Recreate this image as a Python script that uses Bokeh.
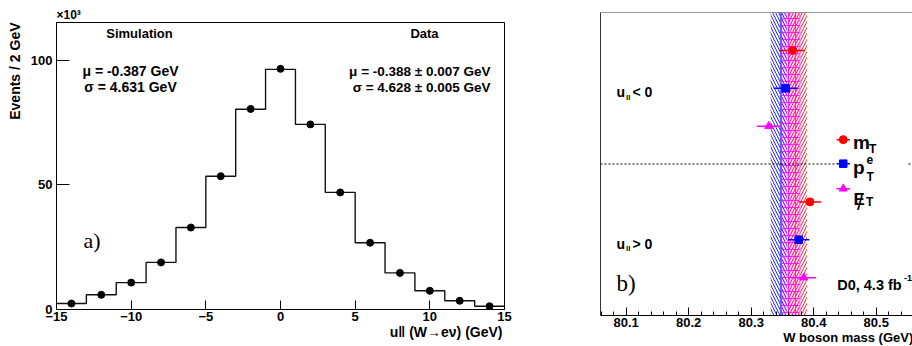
from bokeh.plotting import figure
from bokeh.models import Label, FixedTicker, SingleIntervalTicker, Range1d, Span, Title
from bokeh.layouts import row
from bokeh.embed import file_html
from bokeh.resources import INLINE

# ---------------- data: panel a) ----------------
bin_centers = [-14, -12, -10, -8, -6, -4, -2, 0, 2, 4, 6, 8, 10, 12, 14]
bin_width = 2
sim_counts = [2.4, 5.9, 10.8, 18.9, 32.9, 53.5, 80.4, 96.4, 74.3, 47.0, 26.8, 14.7, 7.5, 3.5, 1.3]
data_counts = [2.4, 5.9, 10.8, 18.9, 32.9, 53.5, 80.5, 96.6, 74.3, 47.0, 26.8, 14.7, 7.5, 3.5, 1.3]
xticks_a = [-15, -10, -5, 0, 5, 10, 15]
yticks_a = [0, 50, 100]
sim_title = "Simulation"
sim_mu = "μ = -0.387 GeV"
sim_sigma = "σ = 4.631 GeV"
data_title = "Data"
data_mu = "μ = -0.388 ± 0.007 GeV"
data_sigma = "σ = 4.628 ± 0.005 GeV"
ylabel_a = "Events / 2 GeV"
xlabel_a = "u‖ (W→eν) (GeV)"
yscale_a = "×10³"

# ---------------- data: panel b) ----------------
methods = ["mT", "pTe", "MET"]
method_colors = ["#ff0000", "#0000ff", "#ff00ff"]
method_markers = ["circle", "square", "triangle"]
rows_neg = [7, 6, 5]          # u_par < 0 rows
rows_pos = [3, 2, 1]          # u_par > 0 rows
mass_neg = [80.366, 80.355, 80.328]
err_neg = [0.020, 0.019, 0.019]
mass_pos = [80.394, 80.376, 80.384]
err_pos = [0.018, 0.017, 0.020]
band_center = [80.3735, 80.344, 80.3625]
band_half = [0.0155, 0.013, 0.0155]
xlabel_b = "W boson mass (GeV)"

FONT = "Liberation Sans"
SERIF = "Liberation Serif"


def lbl(p, x0, y0, fx, fy, px, py, text, size, align="left", baseline="alphabetic",
        bold=True, font=FONT, angle=0.0):
    """Place a label at canvas pixel (px, py) using frame corner (fx, fy) as anchor."""
    p.add_layout(Label(x=x0, y=y0, x_offset=px - fx, y_offset=fy - py, text=text,
                       text_font=font, text_font_size=f"{size}px",
                       text_font_style="bold" if bold else "normal",
                       text_align=align, text_baseline=baseline, angle=angle,
                       text_color="black"))


def ttl(text, size, align, offset=0, standoff=0, valign="bottom"):
    return Title(text=text, align=align, offset=offset, standoff=standoff,
                 vertical_align=valign, text_font=FONT, text_font_size=f"{size}px",
                 text_font_style="bold", text_color="black")


# ================= panel a =================
p1 = figure(width=560, height=346, x_range=Range1d(-15, 15), y_range=Range1d(0, 115.2),
            output_backend="svg", toolbar_location=None, title_location=None,
            min_border_left=56, min_border_right=56, min_border_top=22, min_border_bottom=37)
p1.grid.visible = False
p1.outline_line_color = "black"
p1.outline_line_width = 1
p1.background_fill_color = "white"
p1.border_fill_color = "white"

for ax in (p1.xaxis[0], p1.yaxis[0]):
    ax.axis_line_color = "black"
    ax.major_tick_line_color = "black"
    ax.major_tick_out = 0
    ax.minor_tick_line_color = None
    ax.major_label_text_font = FONT
    ax.major_label_text_font_style = "bold"
    ax.major_label_text_font_size = "13px"
    ax.major_label_text_color = "black"
p1.xaxis.ticker = FixedTicker(ticks=xticks_a)
p1.yaxis.ticker = FixedTicker(ticks=yticks_a)
p1.xaxis.major_tick_in = 9
p1.yaxis.major_tick_in = 13
p1.xaxis.major_label_standoff = 2
p1.yaxis.major_label_standoff = 4

p1.add_layout(ttl(yscale_a, 12, "left", offset=0, standoff=2), "above")
p1.add_layout(ttl(ylabel_a, 14, "right", offset=0, standoff=6, valign="top"), "left")
p1.add_layout(ttl(xlabel_a, 14, "right", offset=2, standoff=0, valign="top"), "below")

edges = [c - bin_width / 2 for c in bin_centers] + [bin_centers[-1] + bin_width / 2]
p1.step(x=edges, y=sim_counts + [sim_counts[-1]], mode="after", line_color="#111111", line_width=1.4)
p1.scatter(x=bin_centers, y=data_counts, marker="circle", size=7, fill_color="black", line_color="black")

A = dict(x0=-15, y0=0, fx=56, fy=309)
lbl(p1, **A, px=139, py=33, text=sim_title, size=13, align="center", baseline="middle")
lbl(p1, **A, px=130, py=70.5, text=sim_mu, size=14, align="center", baseline="middle")
lbl(p1, **A, px=130, py=86.5, text=sim_sigma, size=14, align="center", baseline="middle")
lbl(p1, **A, px=424, py=33, text=data_title, size=13, align="center", baseline="middle")
lbl(p1, **A, px=490, py=70.5, text=data_mu, size=13.5, align="right", baseline="middle")
lbl(p1, **A, px=490, py=86.5, text=data_sigma, size=13.5, align="right", baseline="middle")
lbl(p1, **A, px=83, py=240, text="a)", size=22, bold=False, font=SERIF)

# ================= panel b =================
XL, XR = 80.0589, 80.558
p2 = figure(width=352, height=346, x_range=Range1d(XL, XR), y_range=Range1d(0, 8),
            output_backend="svg", toolbar_location=None, title_location=None,
            min_border_left=40, min_border_right=0, min_border_top=12, min_border_bottom=31)
p2.grid.visible = False
p2.outline_line_color = None
p2.background_fill_color = "white"
p2.border_fill_color = "white"

for p in (p1, p2):
    if "frame_align" in p.properties():
        p.frame_align = False

xa = p2.xaxis[0]
xa.ticker = SingleIntervalTicker(interval=0.1, num_minor_ticks=5)
xa.axis_line_color = "black"
xa.major_tick_line_color = "black"
xa.minor_tick_line_color = "black"
xa.major_tick_in = 8
xa.major_tick_out = 0
xa.minor_tick_in = 4
xa.minor_tick_out = 0
xa.major_label_text_font = FONT
xa.major_label_text_font_style = "bold"
xa.major_label_text_font_size = "13px"
xa.major_label_text_color = "black"
xa.major_label_standoff = 2

ya = p2.yaxis[0]
ya.ticker = FixedTicker(ticks=[])
ya.axis_line_color = "#333333"
ya.major_tick_line_color = None
ya.minor_tick_line_color = None
ya.major_label_text_font_size = "0px"

p2.add_layout(ttl(xlabel_b, 13, "left", offset=182.7, standoff=0, valign="top"), "below")
p2.add_layout(Span(location=8, dimension="width", line_color="#333333", line_width=1))

# bands
hatches = ["/", "\\", "+"]
for c, h, col, hp in zip(band_center, band_half, method_colors, hatches):
    if hp == "+":
        p2.quad(left=c - h, right=c + h, bottom=0, top=8, fill_color=col, fill_alpha=0.18,
                hatch_pattern=hp, hatch_color=col, hatch_alpha=0.8, hatch_scale=7,
                hatch_weight=1, line_color=None)
        p2.segment(x0=[c - h], x1=[c - h], y0=[0], y1=[8], line_color="#6060ff", line_width=1.5)
        p2.segment(x0=[c + h], x1=[c + h], y0=[0], y1=[8], line_color="#ff80ff", line_width=1.2)
    else:
        p2.quad(left=c - h, right=c + h, bottom=0, top=8, fill_alpha=0,
                hatch_pattern=hp, hatch_color=col, hatch_alpha=0.85, hatch_scale=6,
                hatch_weight=1, line_color=None)

# dotted separator
p2.segment(x0=[XL], x1=[XR], y0=[4], y1=[4], line_color="black", line_dash="2 2", line_width=1)


def pxx(px):
    return XL + (px - 600) / 625.0


def pyy(py):
    return (315 - py) / 37.84


# legend background
p2.quad(left=[pxx(834)], right=[pxx(907)], bottom=[pyy(200)], top=[pyy(128)],
        fill_color="white", line_color=None)

# measurements
sizes = [8, 7.5, 8]
for i in range(3):
    col = method_colors[i]
    for m, e, r in ((mass_neg[i], err_neg[i], rows_neg[i]), (mass_pos[i], err_pos[i], rows_pos[i])):
        p2.segment(x0=[m - e], x1=[m + e], y0=[r], y1=[r], line_color=col, line_width=1.5)
        p2.scatter(x=[m], y=[r], marker=method_markers[i], size=sizes[i], fill_color=col,
                   line_color=col)

# legend
leg_rows = [139.3, 163.3, 188.3]
for i in range(3):
    col = method_colors[i]
    yy = pyy(leg_rows[i])
    p2.segment(x0=[pxx(836)], x1=[pxx(849.5)], y0=[yy], y1=[yy], line_color=col, line_width=1.5)
    p2.scatter(x=[pxx(842.7)], y=[yy], marker=method_markers[i], size=sizes[i], fill_color=col,
               line_color=col)

B = dict(x0=XL, y0=0, fx=600, fy=315)
lbl(p2, **B, px=852.5, py=142, text="m", size=19)
lbl(p2, **B, px=868.5, py=148.5, text="T", size=12)
lbl(p2, **B, px=852.5, py=166.5, text="p", size=19)
lbl(p2, **B, px=866, py=159.3, text="e", size=12)
lbl(p2, **B, px=866, py=176.7, text="T", size=12)
lbl(p2, **B, px=853, py=198.5, text="E", size=17)
lbl(p2, **B, px=856.5, py=202, text="/", size=22, bold=False)
lbl(p2, **B, px=865.5, py=201.7, text="T", size=12)

lbl(p2, **B, px=616, py=91.7, text="u", size=14)
lbl(p2, **B, px=625.5, py=96.5, text="ll", size=8)
lbl(p2, **B, px=632, py=91.7, text="< 0", size=14)
lbl(p2, **B, px=616, py=243.3, text="u", size=14)
lbl(p2, **B, px=625.5, py=248, text="ll", size=8)
lbl(p2, **B, px=632, py=243.3, text="> 0", size=14)
lbl(p2, **B, px=616, py=283, text="b)", size=23, bold=False, font=SERIF)
lbl(p2, **B, px=836.7, py=284, text="D0, 4.3 fb", size=14.5)
lbl(p2, **B, px=903.5, py=277.5, text="-1", size=9)

layout = row(p1, p2)
open("out.html", "w").write(file_html(layout, INLINE))
